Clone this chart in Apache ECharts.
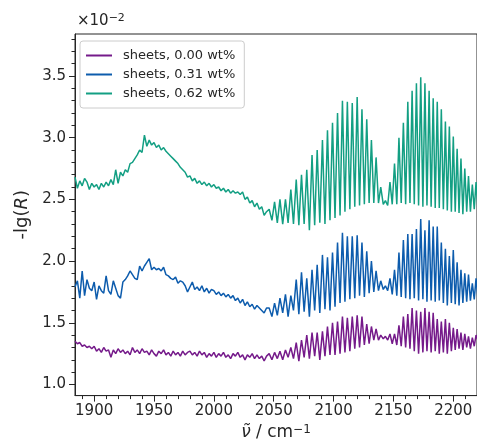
<!DOCTYPE html>
<html>
<head>
<meta charset="utf-8">
<script src="https://cdn.jsdelivr.net/npm/echarts@6/dist/echarts.min.js"></script>
<style>
html, body { margin: 0; padding: 0; background: #fff; }
#main { width: 477px; height: 446px; }
</style>
</head>
<body>
<div id="main"></div>
<script>
// wavenumbers (cm^-1): broad background part, then line pairs (peak, trough)
var wnBackground = [
    1884, 1886, 1888, 1890, 1892, 1894, 1896, 1898, 1900, 1902,
    1904, 1906, 1908, 1910, 1912, 1914, 1916, 1918, 1920, 1922,
    1924, 1926, 1928, 1930, 1932, 1934, 1936, 1938, 1940, 1942,
    1944, 1946, 1948, 1950, 1952, 1954, 1956, 1958, 1960, 1962,
    1964, 1966, 1968, 1970, 1972, 1974, 1976, 1978, 1980, 1982,
    1984, 1986, 1988, 1990, 1992, 1994, 1996, 1998, 2000, 2002,
    2004, 2006, 2008, 2010, 2012, 2014, 2016, 2018, 2020, 2022,
    2024, 2026, 2028, 2030, 2032, 2034, 2036, 2038, 2040, 2042,
    2044
];
var wnBands = [
    2046.2, 2048.5, 2050.7, 2053.0, 2055.2, 2057.5, 2059.8, 2062.0, 2064.3, 2066.5,
    2068.8, 2071.0, 2073.2, 2075.4, 2077.6, 2079.8, 2082.0, 2084.2, 2086.3, 2088.5,
    2090.7, 2092.8, 2094.9, 2097.0, 2099.1, 2101.2, 2103.3, 2105.4, 2107.4, 2109.5,
    2111.5, 2113.6, 2115.6, 2117.7, 2119.7, 2121.7, 2123.7, 2125.7, 2127.7, 2129.7,
    2131.6, 2133.6, 2135.5, 2137.5, 2139.4, 2141.5, 2143.3, 2145.2, 2147.1, 2149.0,
    2150.9, 2152.8, 2154.6, 2156.5, 2158.3, 2160.2, 2162.0, 2163.8, 2165.6, 2167.4,
    2169.2, 2171.0, 2172.8, 2174.6, 2176.3, 2178.0, 2179.8, 2181.5, 2183.2, 2184.9,
    2186.6, 2188.3, 2190.0, 2191.7, 2193.4, 2195.0, 2196.7, 2198.4, 2200.0, 2201.6,
    2203.2, 2204.8, 2206.4, 2208.0, 2209.6, 2211.2, 2212.7, 2214.3, 2215.9, 2217.5,
    2219.0, 2220.5
];

// -lg(R) in units of 1e-2
var sheets000Bg = [
    1.35, 1.33, 1.34, 1.31, 1.32, 1.30, 1.31, 1.29, 1.31, 1.27,
    1.29, 1.26, 1.30, 1.27, 1.28, 1.22, 1.28, 1.25, 1.29, 1.26,
    1.28, 1.25, 1.27, 1.24, 1.30, 1.26, 1.28, 1.25, 1.29, 1.26,
    1.27, 1.24, 1.28, 1.25, 1.23, 1.27, 1.25, 1.28, 1.24, 1.26,
    1.23, 1.27, 1.24, 1.26, 1.23, 1.27, 1.24, 1.26, 1.27, 1.24,
    1.26, 1.23, 1.27, 1.24, 1.26, 1.22, 1.25, 1.23, 1.26, 1.22,
    1.25, 1.23, 1.26, 1.22, 1.24, 1.21, 1.25, 1.23, 1.26, 1.22,
    1.24, 1.20, 1.24, 1.22, 1.25, 1.21, 1.24, 1.21, 1.23, 1.19,
    1.23
];
var sheets000Bands = [
    1.25, 1.20, 1.26, 1.21, 1.27, 1.20, 1.28, 1.22, 1.30, 1.21,
    1.34, 1.19, 1.36, 1.22, 1.40, 1.21, 1.42, 1.23, 1.42, 1.20,
    1.43, 1.23, 1.47, 1.24, 1.50, 1.24, 1.51, 1.25, 1.55, 1.26,
    1.54, 1.27, 1.55, 1.29, 1.56, 1.30, 1.55, 1.32, 1.49, 1.33,
    1.47, 1.36, 1.45, 1.36, 1.40, 1.37, 1.39, 1.36, 1.41, 1.33,
    1.41, 1.32, 1.48, 1.31, 1.55, 1.30, 1.57, 1.29, 1.62, 1.27,
    1.60, 1.25, 1.59, 1.26, 1.62, 1.27, 1.59, 1.26, 1.58, 1.27,
    1.53, 1.25, 1.51, 1.26, 1.53, 1.25, 1.50, 1.27, 1.46, 1.28,
    1.45, 1.29, 1.42, 1.28, 1.41, 1.30, 1.39, 1.29, 1.38, 1.31,
    1.40, 1.36
];

var sheets031Bg = [
    1.79, 1.84, 1.70, 1.92, 1.72, 1.85, 1.78, 1.76, 1.83, 1.69,
    1.80, 1.76, 1.74, 1.88, 1.76, 1.73, 1.84, 1.78, 1.72, 1.70,
    1.83, 1.85, 1.88, 1.92, 1.89, 1.86, 1.85, 1.96, 1.92, 1.96,
    1.99, 2.02, 1.93, 1.95, 1.93, 1.94, 1.92, 1.95, 1.89, 1.88,
    1.86, 1.85, 1.87, 1.82, 1.84, 1.83, 1.80, 1.75, 1.79, 1.83,
    1.77, 1.79, 1.76, 1.80, 1.75, 1.78, 1.74, 1.77, 1.76, 1.73,
    1.75, 1.72, 1.74, 1.71, 1.73, 1.70, 1.72, 1.68, 1.70, 1.66,
    1.69, 1.64, 1.67, 1.63, 1.65, 1.61, 1.64, 1.62, 1.60, 1.58,
    1.62
];
var sheets031Bands = [
    1.62, 1.55, 1.66, 1.56, 1.70, 1.58, 1.73, 1.55, 1.72, 1.60,
    1.85, 1.57, 1.91, 1.59, 1.86, 1.55, 1.93, 1.60, 1.97, 1.58,
    2.05, 1.61, 2.03, 1.60, 2.07, 1.63, 2.15, 1.66, 2.23, 1.67,
    2.20, 1.69, 2.20, 1.70, 2.21, 1.72, 2.15, 1.71, 2.08, 1.74,
    2.00, 1.75, 1.92, 1.76, 1.84, 1.77, 1.80, 1.76, 1.86, 1.73,
    1.93, 1.72, 2.07, 1.71, 2.17, 1.70, 2.22, 1.69, 2.22, 1.70,
    2.26, 1.68, 2.34, 1.69, 2.25, 1.67, 2.33, 1.68, 2.28, 1.67,
    2.28, 1.68, 2.15, 1.66, 2.10, 1.64, 2.04, 1.66, 2.09, 1.65,
    1.99, 1.64, 1.93, 1.66, 1.90, 1.67, 1.89, 1.68, 1.82, 1.69,
    1.86, 1.71
];

var sheets062Bg = [
    2.68, 2.59, 2.65, 2.61, 2.67, 2.64, 2.58, 2.63, 2.60, 2.62,
    2.58, 2.63, 2.60, 2.64, 2.61, 2.66, 2.62, 2.74, 2.63, 2.72,
    2.69, 2.74, 2.72, 2.79, 2.80, 2.83, 2.86, 2.90, 2.88, 3.02,
    2.93, 2.98, 2.94, 2.96, 2.92, 2.94, 2.90, 2.92, 2.89, 2.87,
    2.85, 2.83, 2.81, 2.79, 2.76, 2.74, 2.72, 2.68, 2.69, 2.65,
    2.67, 2.63, 2.65, 2.62, 2.64, 2.61, 2.63, 2.60, 2.62, 2.59,
    2.60, 2.57, 2.59, 2.56, 2.58, 2.55, 2.57, 2.55, 2.56, 2.54,
    2.56, 2.50, 2.52, 2.47, 2.49, 2.44, 2.47, 2.42, 2.44, 2.37,
    2.40
];
var sheets062Bands = [
    2.42, 2.33, 2.48, 2.31, 2.50, 2.30, 2.50, 2.31, 2.58, 2.30,
    2.66, 2.29, 2.70, 2.30, 2.74, 2.25, 2.86, 2.29, 2.90, 2.31,
    2.98, 2.30, 3.06, 2.33, 3.12, 2.35, 3.20, 2.37, 3.30, 2.40,
    3.29, 2.42, 3.28, 2.44, 3.33, 2.45, 3.23, 2.46, 3.15, 2.47,
    2.98, 2.47, 2.84, 2.47, 2.60, 2.46, 2.49, 2.45, 2.64, 2.46,
    2.79, 2.46, 3.00, 2.47, 3.12, 2.46, 3.29, 2.47, 3.38, 2.46,
    3.44, 2.45, 3.49, 2.44, 3.44, 2.45, 3.38, 2.44, 3.32, 2.43,
    3.29, 2.43, 3.23, 2.42, 3.13, 2.41, 3.09, 2.40, 3.01, 2.40,
    2.91, 2.39, 2.83, 2.38, 2.75, 2.40, 2.69, 2.40, 2.62, 2.42,
    2.64, 2.44
];

var seriesNames = ['sheets, 0.00 wt%', 'sheets, 0.31 wt%', 'sheets, 0.62 wt%'];
var seriesColors = ['#751a8a', '#0d5cad', '#139f83'];

var xTicks = [1900, 1950, 2000, 2050, 2100, 2150, 2200];
var xMinorTicks = [1890, 1910, 1920, 1930, 1940, 1960, 1970, 1980, 1990, 2010, 2020, 2030, 2040,
    2060, 2070, 2080, 2090, 2110, 2120, 2130, 2140, 2160, 2170, 2180, 2190, 2210];
var yTicks = [1.0, 1.5, 2.0, 2.5, 3.0, 3.5];
var yMinorTicks = [1.1, 1.2, 1.3, 1.4, 1.6, 1.7, 1.8, 1.9, 2.1, 2.2, 2.3, 2.4,
    2.6, 2.7, 2.8, 2.9, 3.1, 3.2, 3.3, 3.4, 3.6, 3.7, 3.8];

var wavenumber = wnBackground.concat(wnBands);
var values = [
    sheets000Bg.concat(sheets000Bands),
    sheets031Bg.concat(sheets031Bands),
    sheets062Bg.concat(sheets062Bands)
];

var ink = '#262626';
var font = 'DejaVu Sans';
var xMin = 1884, xMax = 2219.8, yMin = 0.91, yMax = 3.84;

var myChart = echarts.init(document.getElementById('main'));

var series = seriesNames.map(function (name, k) {
    return {
        name: name,
        type: 'line',
        symbol: 'none',
        clip: true,
        data: wavenumber.map(function (x, i) { return [x, values[k][i]]; }),
        lineStyle: { color: seriesColors[k], width: 1.5 },
        itemStyle: { color: seriesColors[k] },
        animation: false
    };
});

var option = {
    animation: false,
    backgroundColor: '#fff',
    grid: {
        left: 75, right: -1, top: 34, bottom: 48,
        show: true, borderColor: ink, borderWidth: 1, backgroundColor: 'transparent'
    },
    legend: {
        orient: 'vertical',
        left: 80, top: 41,
        icon: 'rect',
        itemWidth: 26, itemHeight: 2, itemGap: 0,
        padding: [5, 9, 5, 6],
        backgroundColor: 'rgba(255,255,255,0.85)',
        borderColor: '#cccccc', borderWidth: 1, borderRadius: 3,
        textStyle: { fontFamily: font, fontSize: 13, color: ink, lineHeight: 19, padding: [0, 0, 0, 6] },
        data: seriesNames
    },
    xAxis: [{
        type: 'value', min: xMin, max: xMax,
        axisLine: { show: true, lineStyle: { color: ink, width: 1 } },
        axisTick: { show: true, inside: false, length: 6, lineStyle: { color: ink }, customValues: xTicks },
        axisLabel: {
            fontFamily: font, fontSize: 15, color: ink, margin: 8, customValues: xTicks,
            formatter: function (v) { return String(v); }
        },
        splitLine: { show: false },
        name: '{i|ν̃} / cm{sup|−1}',
        nameLocation: 'middle', nameGap: 27,
        nameTextStyle: {
            fontFamily: font, fontSize: 17, color: ink,
            rich: {
                i: { fontFamily: font, fontSize: 17, fontStyle: 'italic', color: ink },
                sup: { fontFamily: font, fontSize: 12, color: ink, verticalAlign: 'top', padding: [0, 0, 6, 0] }
            }
        }
    }, {
        type: 'value', min: xMin, max: xMax, position: 'bottom',
        axisLine: { show: false },
        axisTick: { show: true, inside: false, length: 3.5, lineStyle: { color: ink }, customValues: xMinorTicks },
        axisLabel: { show: false },
        splitLine: { show: false }
    }],
    yAxis: [{
        type: 'value', min: yMin, max: yMax,
        axisLine: { show: true, lineStyle: { color: ink, width: 1 } },
        axisTick: { show: true, inside: false, length: 6, lineStyle: { color: ink }, customValues: yTicks },
        axisLabel: {
            fontFamily: font, fontSize: 15, color: ink, margin: 9, customValues: yTicks,
            formatter: function (v) { return v.toFixed(1); }
        },
        splitLine: { show: false },
        name: '-lg({i|R})',
        nameLocation: 'middle', nameGap: 33,
        nameTextStyle: {
            fontFamily: font, fontSize: 18, color: ink,
            rich: { i: { fontFamily: font, fontSize: 18, fontStyle: 'italic', color: ink } }
        }
    }, {
        type: 'value', min: yMin, max: yMax, position: 'left',
        axisLine: { show: false },
        axisTick: { show: true, inside: false, length: 3.5, lineStyle: { color: ink }, customValues: yMinorTicks },
        axisLabel: { show: false },
        splitLine: { show: false }
    }],
    graphic: [{
        type: 'text', left: 77, top: 13,
        style: {
            text: '×10{sup|−2}',
            font: '15px "DejaVu Sans"', fill: ink,
            rich: { sup: { fontFamily: font, fontSize: 11, fill: ink, verticalAlign: 'top', padding: [0, 0, 6, 0] } }
        }
    }],
    series: series
};
myChart.setOption(option);
</script>
</body>
</html>
